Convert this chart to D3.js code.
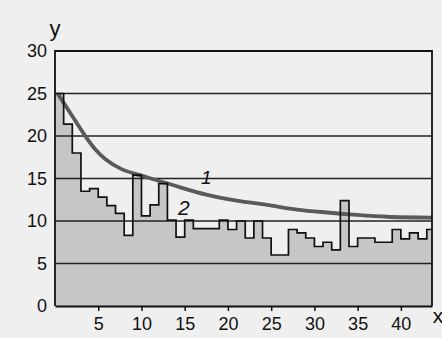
<!DOCTYPE html>
<html>
<head>
<meta charset="utf-8">
<script src="https://cdn.jsdelivr.net/npm/d3@7/dist/d3.min.js"></script>
<style>
  html, body { margin: 0; padding: 0; background: #efefef; }
  svg text { font-family: "Liberation Sans", Arial, sans-serif; fill: #111; }
</style>
</head>
<body>
<figure id="chart" style="margin:0"></figure>
<script>
// histogram (curve 2): left edge of each bin and its height
const binStart = [0, 1, 2, 3, 4, 5, 6, 7, 8, 9, 10, 11, 12, 13, 14, 15, 16, 17, 18, 19, 20, 21,
                  22, 23, 24, 25, 26, 27, 28, 29, 30, 31, 32, 33, 34, 35, 36, 37, 38, 39, 40, 41, 42, 43];
const binValue = [25, 21.4, 18.0, 13.5, 13.8, 12.8, 11.8, 10.9, 8.3, 15.4, 10.6, 11.9, 14.4, 10.1, 8.1,
                  10.1, 9.1, 9.1, 9.1, 10.1, 9.0, 10.0, 8.0, 10.0, 8.0, 6.0, 6.0, 9.0, 8.6, 8.0, 7.0,
                  7.5, 6.6, 12.4, 7.0, 8.0, 8.0, 7.5, 7.5, 9.0, 7.9, 8.6, 7.9, 9.0];

// smooth curve 1
const curveX = [0.3, 1.9, 3.5, 4.6, 5.8, 7.7, 9.6, 11.6, 13.7, 17.5, 21, 24.5, 28, 31.5, 34.5, 38.4, 43.6];
const curveY = [25, 22.5, 20.0, 18.5, 17.3, 16.1, 15.45, 14.85, 14.2, 13.1, 12.4, 11.9, 11.35, 11.0, 10.75, 10.5, 10.4];

const xTicks = [5, 10, 15, 20, 25, 30, 35, 40];
const yTicks = [0, 5, 10, 15, 20, 25, 30];
const xMax = 43.6;

// set the dimensions and margins of the graph
const margin = { top: 51, right: 10, bottom: 32, left: 55 };
const width = 442 - margin.left - margin.right;
const height = 338 - margin.top - margin.bottom;

const root = d3.select('#chart')
  .append('svg')
  .attr('width', 442)
  .attr('height', 338);

root.append('rect').attr('width', 442).attr('height', 338).attr('fill', '#efefef');

const svg = root.append('g')
  .attr('transform', 'translate(' + margin.left + ',' + margin.top + ')');

const x = d3.scaleLinear().domain([0, xMax]).range([0, width]);
const y = d3.scaleLinear().domain([0, 30]).range([height, 0]);

// step points, closed at the right border
const steps = binStart.map((s, i) => [s, binValue[i]]);
steps.push([xMax, binValue[binValue.length - 1]]);

// grey fill under the histogram
svg.append('path')
  .datum(steps)
  .attr('fill', '#c6c6c6')
  .attr('d', d3.area()
    .curve(d3.curveStepAfter)
    .x(d => x(d[0]))
    .y0(y(0))
    .y1(d => y(d[1])));

// horizontal grid lines
svg.append('g')
  .selectAll('line')
  .data(yTicks.filter(v => v > 0 && v < 30))
  .enter()
  .append('line')
  .attr('x1', 0)
  .attr('x2', width)
  .attr('y1', d => y(d))
  .attr('y2', d => y(d))
  .attr('stroke', '#222')
  .attr('stroke-width', 1.3);

// curve 1
svg.append('path')
  .datum(curveX.map((v, i) => [v, curveY[i]]))
  .attr('fill', 'none')
  .attr('stroke', '#5a5a5a')
  .attr('stroke-width', 3.8)
  .attr('d', d3.line()
    .curve(d3.curveCatmullRom)
    .x(d => x(d[0]))
    .y(d => y(d[1])));

// histogram outline (curve 2)
svg.append('path')
  .datum(steps)
  .attr('fill', 'none')
  .attr('stroke', '#111')
  .attr('stroke-width', 1.7)
  .attr('d', d3.line()
    .curve(d3.curveStepAfter)
    .x(d => x(d[0]))
    .y(d => y(d[1])));

// frame
svg.append('path')
  .attr('fill', 'none')
  .attr('stroke', '#111')
  .attr('stroke-width', 1.8)
  .attr('d', 'M' + x(0) + ',' + y(0) + 'V' + y(30) + 'H' + x(xMax) + 'V' + y(0));

// X axis
const xAxis = svg.append('g')
  .attr('transform', 'translate(0,' + height + ')')
  .call(d3.axisBottom(x).tickValues(xTicks).tickSize(5).tickSizeOuter(0).tickPadding(6));
xAxis.select('.domain').attr('stroke', '#111').attr('stroke-width', 2.2);
xAxis.selectAll('.tick line').attr('stroke', '#111').attr('stroke-width', 1.5);
xAxis.selectAll('text').style('font-size', '18px').attr('fill', '#111');

// Y axis
const yAxis = svg.append('g')
  .call(d3.axisLeft(y).tickValues(yTicks).tickSize(0).tickPadding(8));
yAxis.select('.domain').remove();
yAxis.selectAll('text').style('font-size', '18px').attr('fill', '#111');

// axis names
svg.append('text')
  .attr('x', x(0))
  .attr('y', -15)
  .attr('text-anchor', 'middle')
  .style('font-size', '22px')
  .text('y');
svg.append('text')
  .attr('x', width + 6)
  .attr('y', height + 17)
  .attr('text-anchor', 'middle')
  .style('font-size', '21px')
  .text('x');

// curve numbers
svg.append('text')
  .attr('x', x(17.5))
  .attr('y', y(14.4))
  .attr('text-anchor', 'middle')
  .style('font-size', '19px')
  .style('font-style', 'italic')
  .text('1');
svg.append('text')
  .attr('x', x(14.9))
  .attr('y', y(10.7))
  .attr('text-anchor', 'middle')
  .style('font-size', '21px')
  .style('font-style', 'italic')
  .text('2');
</script>
</body>
</html>
